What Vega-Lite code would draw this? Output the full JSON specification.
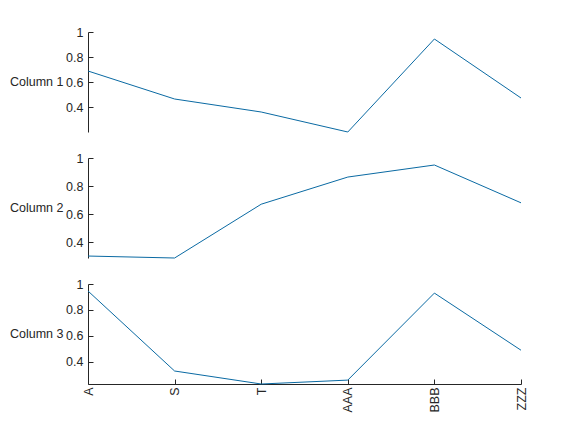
{
  "$schema": "https://vega.github.io/schema/vega-lite/v6.json",
  "autosize": "pad",
  "padding": {"left": 10, "top": 26, "right": 0, "bottom": 0},
  "bounds": "flush",
  "background": "white",
  "config": {
    "view": {"stroke": null},
    "font": "Liberation Sans",
    "facet": {"spacing": 26}
  },
  "data": {
    "values": [
      {"cat": "A", "series": "Column 1", "value": 0.688},
      {"cat": "S", "series": "Column 1", "value": 0.464},
      {"cat": "T", "series": "Column 1", "value": 0.36},
      {"cat": "AAA", "series": "Column 1", "value": 0.2},
      {"cat": "BBB", "series": "Column 1", "value": 0.944},
      {"cat": "ZZZ", "series": "Column 1", "value": 0.472},
      {"cat": "A", "series": "Column 2", "value": 0.3},
      {"cat": "S", "series": "Column 2", "value": 0.286},
      {"cat": "T", "series": "Column 2", "value": 0.67},
      {"cat": "AAA", "series": "Column 2", "value": 0.864},
      {"cat": "BBB", "series": "Column 2", "value": 0.95},
      {"cat": "ZZZ", "series": "Column 2", "value": 0.68},
      {"cat": "A", "series": "Column 3", "value": 0.946},
      {"cat": "S", "series": "Column 3", "value": 0.33},
      {"cat": "T", "series": "Column 3", "value": 0.23},
      {"cat": "AAA", "series": "Column 3", "value": 0.26},
      {"cat": "BBB", "series": "Column 3", "value": 0.93},
      {"cat": "ZZZ", "series": "Column 3", "value": 0.49}
    ]
  },
  "facet": {
    "row": {
      "field": "series",
      "type": "nominal",
      "title": null,
      "header": {
        "labelOrient": "left",
        "labelAngle": 0,
        "labelAlign": "right",
        "labelFontSize": 12.5,
        "labelColor": "#262626",
        "labelPadding": -29,
        "labelFont": "Liberation Sans"
      }
    }
  },
  "resolve": {"scale": {"y": "independent"}},
  "spec": {
    "width": 433,
    "height": 100,
    "mark": {"type": "line", "color": "#0a6aa3", "strokeWidth": 1},
    "encoding": {
      "x": {
        "field": "cat",
        "type": "nominal",
        "sort": null,
        "scale": {"type": "point", "padding": 0},
        "axis": {
          "title": null,
          "labelAngle": -90,
          "labelFontSize": 12.5,
          "labelColor": "#262626",
          "domainColor": "#262626",
          "tickColor": "#262626",
          "tickSize": -5,
          "labelPadding": 8,
          "grid": false
        }
      },
      "y": {
        "field": "value",
        "type": "quantitative",
        "scale": {"zero": false, "nice": false, "domainMax": 1},
        "axis": {
          "title": null,
          "values": [0.4, 0.6, 0.8, 1],
          "format": "~g",
          "labelFontSize": 12.5,
          "labelColor": "#262626",
          "domainColor": "#262626",
          "tickColor": "#262626",
          "tickSize": -5,
          "labelPadding": 10,
          "grid": false
        }
      }
    }
  }
}
